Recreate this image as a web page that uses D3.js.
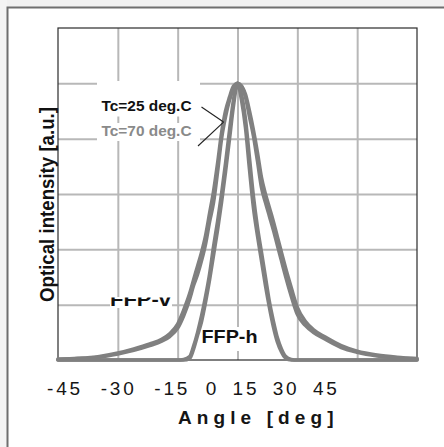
<!DOCTYPE html>
<html>
<head>
<meta charset="utf-8">
<script src="https://cdn.jsdelivr.net/npm/d3@7/dist/d3.min.js"></script>
<style>
  html, body { margin: 0; padding: 0; background: #fff; }
  svg { display: block; }
  text { font-family: "Liberation Sans", Arial, Helvetica, sans-serif; }
</style>
</head>
<body>
<svg id="chart" width="444" height="447"></svg>
<script>
// Far-field pattern (normalised optical intensity vs. angle) at two case temperatures.
const angles = [-45, -40, -35, -30, -26, -22, -19, -17, -15, -13.5, -12, -11, -10, -9, -8, -7, -6, -5, -4, -3, -2, -1,
                0, 1, 2, 3, 4, 5, 6, 7, 8, 9, 10, 11, 12, 13.5, 15, 17, 19, 22, 26, 30, 35, 40, 45];

// FFP-v (perpendicular, wide beam)
const ffpV25 = [0.002, 0.005, 0.010, 0.022, 0.035, 0.052, 0.068, 0.085, 0.115, 0.160, 0.220, 0.270, 0.310, 0.360, 0.420, 0.500, 0.570, 0.680, 0.800, 0.880, 0.940, 0.980,
                1.000, 0.990, 0.950, 0.880, 0.810, 0.720, 0.625, 0.570, 0.520, 0.470, 0.415, 0.360, 0.305, 0.230, 0.165, 0.125, 0.100, 0.075, 0.045, 0.028, 0.015, 0.008, 0.004];
const ffpV70 = [0.003, 0.006, 0.012, 0.025, 0.040, 0.058, 0.075, 0.095, 0.130, 0.180, 0.240, 0.290, 0.340, 0.390, 0.450, 0.530, 0.610, 0.710, 0.820, 0.900, 0.950, 0.990,
                1.000, 0.990, 0.960, 0.900, 0.830, 0.750, 0.660, 0.600, 0.550, 0.500, 0.445, 0.390, 0.335, 0.260, 0.190, 0.140, 0.110, 0.083, 0.052, 0.032, 0.018, 0.010, 0.005];

// FFP-h (parallel, narrow beam)
const ffpH25 = [0, 0, 0, 0, 0, 0, 0, 0, 0, 0, 0.005, 0.040, 0.090, 0.140, 0.210, 0.290, 0.380, 0.470, 0.570, 0.680, 0.800, 0.920,
                1.000, 0.940, 0.840, 0.690, 0.550, 0.450, 0.360, 0.270, 0.190, 0.120, 0.065, 0.030, 0.008, 0, 0, 0, 0, 0, 0, 0, 0, 0, 0];
const ffpH70 = [0, 0, 0, 0, 0, 0, 0, 0, 0, 0.002, 0.012, 0.050, 0.100, 0.160, 0.230, 0.310, 0.410, 0.500, 0.600, 0.710, 0.830, 0.940,
                1.000, 0.960, 0.870, 0.730, 0.590, 0.480, 0.390, 0.300, 0.210, 0.140, 0.080, 0.040, 0.014, 0.002, 0, 0, 0, 0, 0, 0, 0, 0, 0];

const xTicks = [-45, -30, -15, 0, 15, 30, 45];
const xTickLabels = ["-45", "-30", "-15", "0", "15", "30", "45"];
const yTicks = [0, 0.2, 0.4, 0.6, 0.8, 1.0, 1.2];

const seriesValues = [ffpV25, ffpV70, ffpH25, ffpH70];

const tempLabels = ["Tc=25 deg.C", "Tc=70 deg.C"];
const beamLabels = ["FFP-v", "FFP-h"];
const xTitle = "Angle [deg]";
const yTitle = "Optical intensity [a.u.]";

// ---------------------------------------------------------------
const svg = d3.select("#chart");
const W = 444, H = 447;
const plot = { left: 58, right: 417, top: 28, bottom: 360 };

const x = d3.scaleLinear().domain([-45, 45]).range([plot.left, plot.right]);
const y = d3.scaleLinear().domain([0, 1.2]).range([plot.bottom, plot.top]);

// page background and outer frame
svg.append("rect").attr("width", W).attr("height", H).attr("fill", "#fff");
svg.append("rect").attr("x", 0).attr("y", 0).attr("width", W).attr("height", 7).attr("fill", "#f1f1f1");
svg.append("rect").attr("x", 0).attr("y", 0).attr("width", 7).attr("height", H).attr("fill", "#f4f4f4");
svg.append("path")
  .attr("d", `M7.5,${H} V7.5 H${W}`)
  .attr("fill", "none").attr("stroke", "#6f6f6f").attr("stroke-width", 2);

// grid lines built from the axes
const gridX = d3.axisBottom(x).tickValues(xTicks.slice(1, -1)).tickSize(-(plot.bottom - plot.top)).tickFormat("");
const gridY = d3.axisLeft(y).tickValues(yTicks.slice(1, -1)).tickSize(-(plot.right - plot.left)).tickFormat("");

const gx = svg.append("g").attr("transform", `translate(0,${plot.bottom})`).call(gridX);
const gy = svg.append("g").attr("transform", `translate(${plot.left},0)`).call(gridY);
[gx, gy].forEach(g => {
  g.select(".domain").remove();
  g.selectAll(".tick line").attr("stroke", "#b8b8b8").attr("stroke-width", 2);
});

// white panels behind the in-plot labels
const panels = [
  { x: 97, y: 81, w: 103, h: 35.5 },
  { x: 97, y: 123, w: 103, h: 18 },
  { x: 110, y: 297, w: 62, h: 11 },
  { x: 201, y: 327, w: 58, h: 24 }
];
svg.selectAll("rect.panel").data(panels).enter().append("rect")
  .attr("class", "panel")
  .attr("x", d => d.x).attr("y", d => d.y).attr("width", d => d.w).attr("height", d => d.h)
  .attr("fill", "#fff");

// plot frame
svg.append("rect")
  .attr("x", plot.left).attr("y", plot.top)
  .attr("width", plot.right - plot.left).attr("height", plot.bottom - plot.top)
  .attr("fill", "none").attr("stroke", "#2b2b2b").attr("stroke-width", 1.2);

// curves
const line = d3.line()
  .x((d, i) => x(angles[i]))
  .y(d => y(d))
  .curve(d3.curveMonotoneX);

svg.append("g").selectAll("path").data(seriesValues).enter().append("path")
  .attr("d", d => line(d))
  .attr("fill", "none")
  .attr("stroke", "#808080")
  .attr("stroke-width", 3.6)
  .attr("stroke-linejoin", "round")
  .attr("stroke-linecap", "round");

// temperature legend with leader lines to the curves
const anchor = { angle: -3.5, value: 0.86 };
const ax = x(anchor.angle), ay = y(anchor.value);
svg.append("line").attr("x1", 201.5).attr("y1", 107).attr("x2", ax).attr("y2", ay)
  .attr("stroke", "#222").attr("stroke-width", 1.1);
svg.append("line").attr("x1", 198).attr("y1", 146).attr("x2", ax).attr("y2", ay)
  .attr("stroke", "#222").attr("stroke-width", 1.1);

svg.append("text").attr("x", 101.5).attr("y", 110.7)
  .attr("font-size", 15).attr("font-weight", "bold").attr("fill", "#111")
  .attr("textLength", 90).attr("lengthAdjust", "spacingAndGlyphs")
  .text(tempLabels[0]);
svg.append("text").attr("x", 101.5).attr("y", 135.7)
  .attr("font-size", 15).attr("font-weight", "bold").attr("fill", "#8a8a8a")
  .attr("textLength", 90).attr("lengthAdjust", "spacingAndGlyphs")
  .text(tempLabels[1]);

// beam labels (FFP-v sits partly under the panel edge above it)
svg.append("clipPath").attr("id", "clipV")
  .append("rect").attr("x", 100).attr("y", 297.5).attr("width", 80).attr("height", 20);
svg.append("text").attr("x", 110).attr("y", 306)
  .attr("clip-path", "url(#clipV)")
  .attr("font-size", 18.5).attr("font-weight", "bold").attr("fill", "#111")
  .attr("textLength", 61).attr("lengthAdjust", "spacingAndGlyphs")
  .text(beamLabels[0]);
svg.append("text").attr("x", 201.5).attr("y", 343.3)
  .attr("font-size", 18.5).attr("font-weight", "bold").attr("fill", "#111")
  .attr("textLength", 56).attr("lengthAdjust", "spacingAndGlyphs")
  .text(beamLabels[1]);

// x tick labels, laid out as one evenly pitched row
const cell = 13.4, rowStart = 43.5;
let offset = 0;
const tickPos = xTickLabels.map(t => {
  const c = rowStart + cell * (offset + t.length / 2);
  offset += t.length + 1;
  return c;
});
svg.append("g").selectAll("text").data(xTickLabels).enter().append("text")
  .attr("x", (d, i) => tickPos[i] + 1.4)
  .attr("y", 394.5)
  .attr("text-anchor", "middle")
  .attr("font-size", 19)
  .attr("letter-spacing", 2.8)
  .attr("fill", "#151515")
  .text(d => d);

// axis titles
svg.append("text").attr("x", 178).attr("y", 424)
  .attr("font-size", 19).attr("font-weight", "bold").attr("letter-spacing", 5.1)
  .attr("fill", "#151515")
  .text(xTitle);

svg.append("text")
  .attr("transform", "translate(53.5,204.5) rotate(-90)")
  .attr("text-anchor", "middle")
  .attr("font-size", 21).attr("font-weight", "bold").attr("fill", "#111")
  .attr("textLength", 195).attr("lengthAdjust", "spacingAndGlyphs")
  .text(yTitle);
</script>
</body>
</html>
